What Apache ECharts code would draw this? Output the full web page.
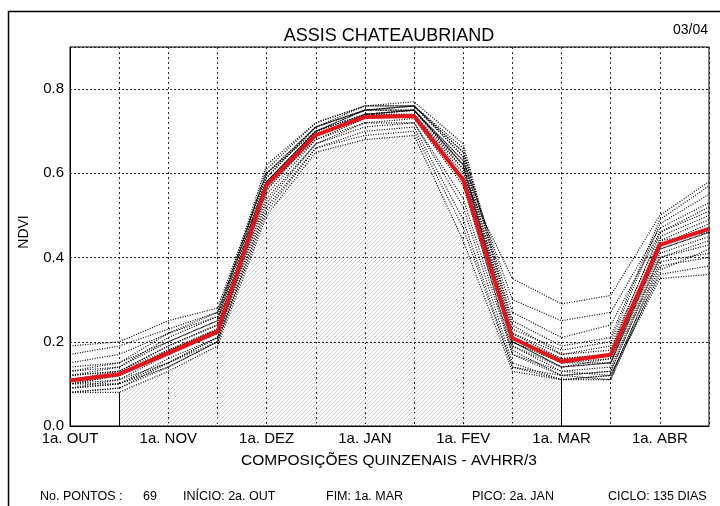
<!DOCTYPE html>
<html>
<head>
<meta charset="utf-8">
<script src="https://cdn.jsdelivr.net/npm/echarts@6/dist/echarts.min.js"></script>
<style>
html,body{margin:0;padding:0;background:#fff;}
#chart{width:720px;height:506px;}
</style>
</head>
<body>
<div id="chart"></div>
<script>
// composições quinzenais (eixo x)
var categories = ['1a. OUT','2a. OUT','1a. NOV','2a. NOV','1a. DEZ','2a. DEZ','1a. JAN','2a. JAN','1a. FEV','2a. FEV','1a. MAR','2a. MAR','1a. ABR','2a. ABR'];
var yTicks = [0, 0.2, 0.4, 0.6, 0.8];

// perfil medio (linha vermelha)
var meanNdvi = [0.108,0.123,0.173,0.224,0.572,0.691,0.734,0.736,0.584,0.209,0.153,0.169,0.430,0.468];

// perfis individuais (pontilhados)
var profiles = [
    [0.09,0.10,0.16,0.21,0.56,0.69,0.74,0.75,0.62,0.20,0.14,0.15,0.42,0.46],
    [0.12,0.13,0.19,0.24,0.59,0.71,0.75,0.76,0.64,0.22,0.16,0.17,0.44,0.49],
    [0.10,0.11,0.17,0.22,0.57,0.70,0.74,0.74,0.60,0.19,0.13,0.14,0.41,0.45],
    [0.08,0.09,0.14,0.20,0.53,0.67,0.72,0.73,0.57,0.18,0.12,0.13,0.40,0.43],
    [0.13,0.14,0.20,0.25,0.61,0.72,0.76,0.77,0.67,0.24,0.17,0.18,0.46,0.52],
    [0.11,0.12,0.18,0.23,0.58,0.70,0.75,0.75,0.63,0.21,0.15,0.16,0.43,0.47],
    [0.09,0.11,0.15,0.21,0.55,0.68,0.73,0.74,0.58,0.17,0.13,0.12,0.38,0.40],
    [0.12,0.14,0.21,0.26,0.62,0.72,0.76,0.76,0.66,0.23,0.18,0.20,0.48,0.55],
    [0.10,0.12,0.17,0.23,0.56,0.69,0.74,0.75,0.61,0.20,0.15,0.15,0.43,0.48],
    [0.14,0.15,0.22,0.27,0.60,0.71,0.75,0.76,0.65,0.25,0.19,0.21,0.49,0.57],
    [0.08,0.08,0.13,0.19,0.50,0.65,0.68,0.69,0.44,0.13,0.11,0.12,0.36,0.38],
    [0.11,0.12,0.18,0.22,0.57,0.68,0.72,0.72,0.52,0.15,0.11,0.11,0.37,0.42],
    [0.17,0.19,0.23,0.27,0.58,0.69,0.73,0.74,0.59,0.35,0.29,0.31,0.50,0.58],
    [0.19,0.20,0.25,0.28,0.60,0.70,0.74,0.75,0.63,0.30,0.25,0.27,0.47,0.53],
    [0.10,0.10,0.15,0.20,0.52,0.66,0.70,0.71,0.49,0.14,0.11,0.12,0.35,0.36],
    [0.09,0.10,0.14,0.20,0.51,0.66,0.69,0.70,0.47,0.14,0.12,0.11,0.39,0.41],
    [0.13,0.15,0.20,0.25,0.59,0.71,0.75,0.76,0.64,0.22,0.17,0.19,0.45,0.50],
    [0.11,0.13,0.19,0.24,0.58,0.70,0.75,0.75,0.62,0.21,0.16,0.17,0.44,0.46],
    [0.15,0.17,0.22,0.26,0.60,0.71,0.76,0.76,0.65,0.27,0.21,0.24,0.46,0.51],
    [0.08,0.09,0.15,0.21,0.54,0.67,0.71,0.72,0.54,0.17,0.12,0.13,0.40,0.44],
    [0.12,0.13,0.18,0.23,0.58,0.70,0.74,0.75,0.62,0.20,0.14,0.16,0.43,0.47],
    [0.10,0.12,0.17,0.22,0.57,0.69,0.74,0.74,0.61,0.19,0.14,0.15,0.42,0.46]
];

// ciclo: inicio 2a. OUT (1) ate fim 1a. MAR (10)
var cycleStart = 1;
var cycleEnd = 10;

var footer = [
    {text:'No. PONTOS :', x:40},
    {text:'69', x:143},
    {text:'INÍCIO: 2a. OUT', x:183},
    {text:'FIM: 1a. MAR', x:326},
    {text:'PICO: 2a. JAN', x:472},
    {text:'CICLO: 135 DIAS', x:608}
];

var FONT = 'Liberation Sans';

// area hachurada: abaixo do menor perfil dentro do ciclo
var hatchData = [];
for(var i=0;i<categories.length;i++){
    if(i<cycleStart || i>cycleEnd){
        hatchData.push('-');
        continue;
    }
    var m = 1;
    for(var k=0;k<profiles.length;k++){
        if(profiles[k][i]<m) m = profiles[k][i];
    }
    hatchData.push(m);
}

function makeHatch(){
    var s = 4;
    var c = document.createElement('canvas');
    c.width = s; c.height = s;
    var ctx = c.getContext('2d');
    ctx.strokeStyle = '#bdbdbd';
    ctx.lineWidth = 0.7;
    ctx.beginPath();
    ctx.moveTo(0,s); ctx.lineTo(s,0);
    ctx.moveTo(-1,1); ctx.lineTo(1,-1);
    ctx.moveTo(s-1,s+1); ctx.lineTo(s+1,s-1);
    ctx.stroke();
    return c;
}

var dom = document.getElementById('chart');
var myChart = echarts.init(dom);

var series = [];
series.push({
    type:'line',
    data:hatchData,
    symbol:'none',
    silent:true,
    z:1,
    lineStyle:{width:0},
    areaStyle:{
        color:{image:makeHatch(), repeat:'repeat'},
        opacity:1
    },
    markLine:{
        silent:true,
        symbol:'none',
        label:{show:false},
        lineStyle:{color:'#000', width:1, type:'solid'},
        data:[
            [{coord:[categories[cycleStart],0]},{coord:[categories[cycleStart],hatchData[cycleStart]]}],
            [{coord:[categories[cycleEnd],0]},{coord:[categories[cycleEnd],hatchData[cycleEnd]]}]
        ]
    }
});
for(var p=0;p<profiles.length;p++){
    series.push({
        type:'line',
        data:profiles[p],
        symbol:'none',
        silent:true,
        z:2,
        lineStyle:{color:'#000', width:1.2, type:[1,1.5]}
    });
}
series.push({
    type:'line',
    data:meanNdvi,
    symbol:'none',
    silent:true,
    z:5,
    lineStyle:{color:'#e3151b', width:4}
});

var graphics = [
    {type:'rect', shape:{x:8.5, y:11.5, width:800, height:600}, style:{fill:'none', stroke:'#000', lineWidth:1.5}, silent:true},
    {type:'text', x:389, y:36, style:{text:'ASSIS CHATEAUBRIAND', font:'18px "'+FONT+'"', fill:'#000', textAlign:'center', textVerticalAlign:'middle'}},
    {type:'text', x:708, y:30, style:{text:'03/04', font:'14px "'+FONT+'"', fill:'#000', textAlign:'right', textVerticalAlign:'middle'}},
    {type:'text', x:24, y:232, rotation:Math.PI/2, style:{text:'NDVI', font:'14px "'+FONT+'"', fill:'#000', textAlign:'center', textVerticalAlign:'middle'}},
    {type:'text', x:389, y:461, style:{text:'COMPOSIÇÕES QUINZENAIS - AVHRR/3', font:'15.5px "'+FONT+'"', fill:'#000', textAlign:'center', textVerticalAlign:'middle'}}
];
for(var f=0;f<footer.length;f++){
    graphics.push({type:'text', x:footer[f].x, y:497, style:{text:footer[f].text, font:'12.5px "'+FONT+'"', fill:'#000', textAlign:'left', textVerticalAlign:'middle'}});
}

var option = {
    animation:false,
    backgroundColor:'#fff',
    grid:{
        left:70,
        right:11,
        top:47,
        bottom:80,
        show:true,
        borderColor:'#000',
        borderWidth:1
    },
    xAxis:{
        type:'category',
        data:categories,
        boundaryGap:false,
        axisLine:{lineStyle:{color:'#000', width:1}},
        axisTick:{show:false, interval:0},
        axisLabel:{
            interval:function(index){ return index%2===0; },
            color:'#000',
            fontFamily:FONT,
            fontSize:15,
            margin:5
        },
        splitLine:{
            show:true,
            interval:0,
            lineStyle:{color:'#222', width:1, type:[2,3]}
        }
    },
    yAxis:{
        type:'value',
        min:yTicks[0],
        max:0.9,
        interval:0.2,
        axisLine:{show:true, lineStyle:{color:'#000', width:1}},
        axisTick:{show:false},
        axisLabel:{
            color:'#000',
            fontFamily:FONT,
            fontSize:15,
            margin:6,
            formatter:function(v){
                for(var t=0;t<yTicks.length;t++){
                    if(Math.abs(v-yTicks[t])<1e-6) return yTicks[t].toFixed(1);
                }
                return '';
            }
        },
        splitLine:{
            show:true,
            lineStyle:{color:'#222', width:1, type:[2,2]}
        }
    },
    series:series,
    graphic:graphics
};

myChart.setOption(option);
</script>
</body>
</html>
